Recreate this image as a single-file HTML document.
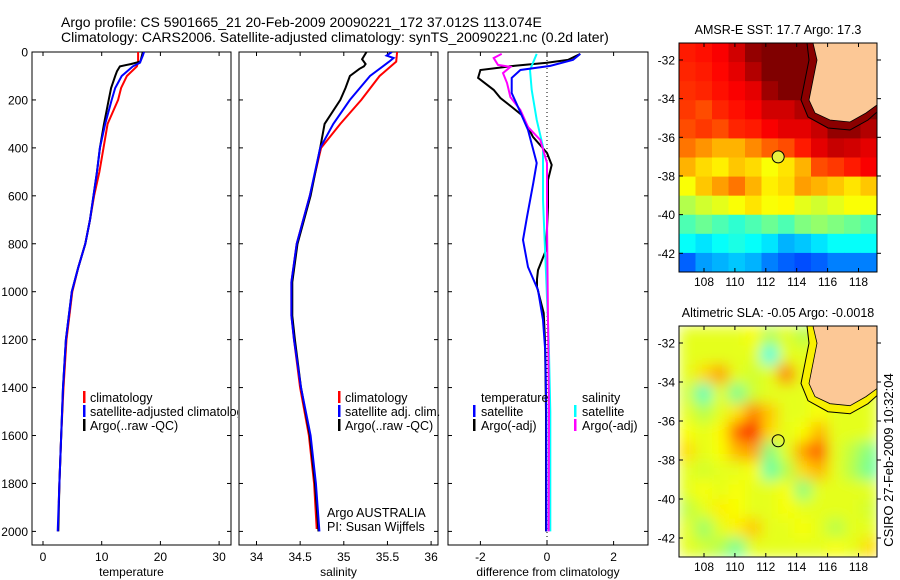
<!DOCTYPE html>
<html><head><meta charset="utf-8"><style>
body{margin:0;background:#fff;}
svg{display:block;font-family:"Liberation Sans",sans-serif;}
text{fill:#000;}
</style></head><body>
<svg id="fig" width="900" height="580" viewBox="0 0 900 580">
<defs>
<clipPath id="cp1"><rect x="32" y="52" width="199" height="493"/></clipPath>
<clipPath id="cp2"><rect x="239" y="52" width="199" height="493"/></clipPath>
<clipPath id="cp3"><rect x="448" y="52" width="200" height="493"/></clipPath>
<clipPath id="cpm1"><rect x="679" y="43" width="198" height="229"/></clipPath>
<clipPath id="cpm2"><rect x="679" y="326" width="198" height="231"/></clipPath>
<filter id="blur" x="0" y="0" width="1" height="1"><feGaussianBlur stdDeviation="7" edgeMode="duplicate"/></filter>
</defs>
<text x="61" y="27" font-size="14">Argo profile: CS 5901665_21 20-Feb-2009 20090221_172 37.012S 113.074E</text>
<text x="61" y="42" font-size="14">Climatology: CARS2006. Satellite-adjusted climatology: synTS_20090221.nc (0.2d later)</text>
<g id="g1"></g>
<g id="g2"></g>
<g id="g3"></g>
<g id="m1"></g>
<g id="m2"></g>
<text transform="translate(893,460) rotate(-90)" font-size="13" text-anchor="middle">CSIRO 27-Feb-2009 10:32:04</text>
</svg>
<script>
// ---- profile data (depth in m) ----
const tClimDepth=[0,40,60,100,150,200,300,400,500,600,700,800,900,1000,1200,1400,1600,1800,1880];
const tClimVal=[16.2,16.2,16.0,14.3,13.3,12.8,11.0,10.3,9.6,8.7,8.0,7.2,6.0,5.0,4.0,3.5,3.1,2.8,2.7];
const tSatDepth=[0,15,45,60,100,150,200,300,400,500,600,700,800,900,1000,1200,1400,1600,1800,2000];
const tSatVal=[17.2,17.0,16.5,15.3,13.4,12.3,11.7,10.6,9.7,9.2,8.6,8.0,7.2,6.0,4.9,3.9,3.4,3.1,2.8,2.5];
const tArgoDepth=[0,40,50,60,80,100,150,200,300,400,500,600,700,800,900,1000,1200,1400,1600,1800,2000];
const tArgoVal=[17.0,16.6,15.0,13.1,12.6,12.3,11.6,11.2,10.4,9.7,9.2,8.6,8.0,7.2,6.0,4.9,3.9,3.4,3.1,2.8,2.6];
const sClimDepth=[0,40,100,200,300,400,600,800,960,1100,1200,1400,1600,1800,1990];
const sClimVal=[35.61,35.6,35.41,35.2,34.96,34.74,34.61,34.46,34.40,34.40,34.43,34.5,34.6,34.66,34.69];
const sSatDepth=[0,15,25,40,100,200,300,400,600,800,960,1100,1200,1400,1600,1800,2000];
const sSatVal=[35.55,35.49,35.57,35.52,35.3,35.07,34.88,34.73,34.61,34.46,34.40,34.40,34.43,34.51,34.62,34.68,34.72];
const sArgoDepth=[0,30,50,60,70,100,150,200,300,400,600,800,960,1100,1200,1400,1600,1800,2000];
const sArgoVal=[35.26,35.21,35.25,35.23,35.18,35.07,35.02,34.96,34.78,34.73,34.62,34.47,34.41,34.41,34.44,34.51,34.61,34.67,34.71];
const dTSatDepth=[8,33,58,75,108,171,229,325,463,546,688,784,897,993,1118,1250,1500,2000];
const dTSatVal=[1.0,0.78,0.1,-0.8,-1.06,-1.06,-0.87,-0.57,-0.31,-0.41,-0.6,-0.72,-0.57,-0.27,-0.12,-0.05,-0.02,-0.02];
const dTArgoDepth=[8,33,45,57,75,108,158,192,229,263,354,421,471,534,646,826,910,948,980,1089,1200,1500,2000];
const dTArgoVal=[1.0,0.63,0.0,-0.96,-2.0,-2.07,-1.6,-1.4,-1.06,-0.76,-0.42,0.0,0.14,0.03,0.03,-0.03,-0.27,-0.3,-0.3,-0.1,-0.06,-0.03,-0.03];
const dSSatDepth=[8,75,158,283,396,617,922,1200,1500,2000];
const dSSatVal=[-0.31,-0.51,-0.46,-0.31,-0.12,-0.12,-0.03,0.05,0.1,0.1];
const dSArgoDepth=[8,25,54,62,88,129,188,242,313,367,463,700,1000,1500,2000];
const dSArgoVal=[-1.36,-1.6,-1.47,-1.1,-1.32,-1.2,-1.1,-0.8,-0.57,-0.2,0.0,0.0,0.02,0.06,0.05];
// ---- map grids (jet colormap fraction 0..1), 12 cols x 12 rows ----
const sstGrid=[
[.85,.86,.88,.92,.98,1,1,1,1,1,1,1],
[.84,.85,.87,.9,.95,1,1,1,1,1,1,1],
[.83,.84,.86,.88,.9,.97,1,1,1,1,1,1],
[.82,.8,.84,.86,.88,.92,.92,.95,1,1,1,1],
[.8,.82,.8,.84,.85,.88,.9,.9,.93,.98,.98,.95],
[.76,.73,.7,.7,.74,.78,.8,.85,.9,.93,.92,.9],
[.7,.66,.64,.68,.66,.62,.65,.7,.8,.82,.85,.88],
[.62,.68,.72,.76,.7,.64,.66,.72,.7,.68,.65,.68],
[.55,.58,.6,.62,.65,.62,.63,.6,.58,.6,.62,.62],
[.45,.48,.45,.42,.45,.48,.45,.5,.52,.5,.48,.45],
[.38,.35,.38,.4,.38,.35,.3,.32,.35,.38,.38,.38],
[.22,.28,.3,.32,.3,.25,.22,.2,.22,.25,.25,.25]];
const slaGrid=[
[.6,.6,.6,.6,.62,.55,.6,.55,.6,.6,.6,.6],
[.6,.6,.6,.6,.6,.4,.6,.6,.6,.6,.6,.6],
[.6,.66,.72,.6,.58,.6,.76,.6,.65,.6,.6,.6],
[.58,.44,.6,.48,.58,.6,.6,.6,.62,.6,.6,.6],
[.6,.55,.6,.65,.75,.68,.6,.6,.62,.6,.6,.6],
[.62,.6,.63,.78,.88,.66,.6,.62,.7,.6,.6,.6],
[.66,.6,.62,.7,.72,.5,.6,.72,.8,.6,.56,.5],
[.6,.58,.6,.6,.62,.46,.55,.66,.7,.6,.55,.48],
[.6,.62,.6,.62,.6,.6,.62,.5,.6,.6,.6,.6],
[.56,.6,.64,.62,.6,.6,.62,.6,.6,.6,.6,.58],
[.6,.52,.6,.64,.68,.6,.6,.62,.6,.55,.6,.6],
[.6,.58,.55,.48,.6,.6,.6,.6,.6,.62,.6,.66]];

const NS='http://www.w3.org/2000/svg';
function el(parent,tag,attrs){const e=document.createElementNS(NS,tag);for(const k in attrs)e.setAttribute(k,attrs[k]);parent.appendChild(e);return e;}
const yD=d=>52+d*0.2397;
function panel(g,x0,x1,clip,xs,xTicks,xLab,xTitle,yLabels){
  const r=el(g,'rect',{x:x0,y:52,width:x1-x0,height:493,fill:'none',stroke:'#000','stroke-width':1});
  
  for(let d=0;d<=2000;d+=200){const y=yD(d);
    el(g,'line',{x1:x0,x2:x0+4,y1:y,y2:y,stroke:'#000'});el(g,'line',{x1:x1-4,x2:x1,y1:y,y2:y,stroke:'#000'});
    if(yLabels){const t=el(g,'text',{x:x0-4,y:y+4.5,'text-anchor':'end','font-size':12});t.textContent=d;
      }}
  xTicks.forEach((v,i)=>{const x=xs(v);el(g,'line',{x1:x,x2:x,y1:545,y2:541,stroke:'#000'});el(g,'line',{x1:x,x2:x,y1:52,y2:56,stroke:'#000'});
    const t=el(g,'text',{x:x,y:561,'text-anchor':'middle','font-size':12});t.textContent=xLab[i];
    });
  const t=el(g,'text',{x:(x0+x1)/2,y:576,'text-anchor':'middle','font-size':12});t.textContent=xTitle;
  
  return el(g,'g',{'clip-path':'url(#'+clip+')'});
}
function line(g,xs,depths,vals,color,name,w){
  const pts=depths.map((d,i)=>xs(vals[i]).toFixed(1)+','+yD(d).toFixed(1)).join(' ');
  const p=el(g,'polyline',{points:pts,fill:'none',stroke:color,'stroke-width':w||2});
  
}
function txt(g,x,y,s,name){const t=el(g,'text',{x:x,y:y,'font-size':12.5});t.textContent=s;return t;}
function mark(g,x,y,c){el(g,'rect',{x:x,y:y-11,width:2.5,height:12,fill:c});}

// Panel 1
const xT=v=>43+5.87*v;
const g1=document.getElementById('g1');
const c1=panel(g1,32,231,'cp1',xT,[0,10,20,30],['0','10','20','30'],'temperature',true);
line(c1,xT,tClimDepth,tClimVal,'#f00','temp-climatology-line');
line(c1,xT,tArgoDepth,tArgoVal,'#000','temp-argo-line');
line(c1,xT,tSatDepth,tSatVal,'#00f','temp-satellite-line');
mark(g1,83,402,'#f00');txt(g1,90,402,'climatology','legend-climatology');
mark(g1,83,416,'#00f');txt(g1,90,416,'satellite-adjusted climatology','legend-satellite-adjusted');
mark(g1,83,430,'#000');txt(g1,90,430,'Argo(..raw -QC)','legend-argo');
// Panel 2
const xS=v=>256.5+87.3*(v-34);
const g2=document.getElementById('g2');
el(g2,'rect',{x:238,y:380,width:200,height:60,fill:'#fff'});
const c2=panel(g2,239,438,'cp2',xS,[34,34.5,35,35.5,36],['34','34.5','35','35.5','36'],'salinity',false);
line(c2,xS,sClimDepth,sClimVal,'#f00','sal-climatology-line');
line(c2,xS,sArgoDepth,sArgoVal,'#000','sal-argo-line');
line(c2,xS,sSatDepth,sSatVal,'#00f','sal-satellite-line');
mark(g2,338,402,'#f00');txt(g2,345,402,'climatology','legend-sal-climatology');
mark(g2,338,416,'#00f');txt(g2,345,416,'satellite adj. clim.','legend-sal-satellite');
mark(g2,338,430,'#000');txt(g2,345,430,'Argo(..raw -QC)','legend-sal-argo');
txt(g2,327,517,'Argo AUSTRALIA','argo-australia-label');
txt(g2,327,531,'PI: Susan Wijffels','pi-label');
// Panel 3
const xDf=v=>547+33.3*v;
const g3=document.getElementById('g3');
const c3=panel(g3,448,648,'cp3',xDf,[-2,0,2],['-2','0','2'],'difference from climatology',false);
el(c3,'line',{x1:xDf(0),x2:xDf(0),y1:52,y2:545,stroke:'#000','stroke-dasharray':'1,3'});
line(c3,xDf,dTArgoDepth,dTArgoVal,'#000','diff-temp-argo-line');
line(c3,xDf,dSSatDepth,dSSatVal,'#0ff','diff-sal-satellite-line');
line(c3,xDf,dSArgoDepth,dSArgoVal,'#f0f','diff-sal-argo-line');
line(c3,xDf,dTSatDepth,dTSatVal,'#00f','diff-temp-satellite-line');
txt(g3,481,402,'temperature','legend-temperature-heading');
mark(g3,473,416,'#00f');txt(g3,481,416,'satellite','legend-temp-satellite');
mark(g3,473,430,'#000');txt(g3,481,430,'Argo(-adj)','legend-temp-argo');
txt(g3,582,402,'salinity','legend-salinity-heading');
mark(g3,574,416,'#0ff');txt(g3,582,416,'satellite','legend-sal-sat');
mark(g3,574,430,'#f0f');txt(g3,582,430,'Argo(-adj)','legend-sal-argo-adj');

// Maps
function jet(v){const c=x=>Math.round(255*Math.max(0,Math.min(1,x)));
  return 'rgb('+c(1.5-Math.abs(4*v-3))+','+c(1.5-Math.abs(4*v-2))+','+c(1.5-Math.abs(4*v-1))+')';}
function map(gid,top,h,clip,grid,smooth,title,shelf){
  const g=document.getElementById(gid);const L=679,W=198;
  const lon=v=>704+(v-108)*15.45, lat=v=>top+17+(v-32)*19.33*(h/229);
  const t=el(g,'text',{x:778,y:top-9,'text-anchor':'middle','font-size':12.5});t.textContent=title;
  
  const cg=el(g,'g',{'clip-path':'url(#'+clip+')'});
  const inner=el(cg,'g',smooth?{filter:'url(#blur)'}:{});
  const cw=W/12,ch=h/12;
  grid.forEach((row,r)=>row.forEach((v,c)=>{
    const cell=el(inner,'rect',{x:L+c*cw,y:top+r*ch,width:cw+0.6,height:ch+0.6,fill:jet(v)});
    
    
  }));
  const sy=h/229;
  const P=(x,y)=>x+','+(top+(y-43)*sy);
  const coast=[[813,43],[817,60],[812,85],[809,100],[815,113],[830,120],[850,122],[866,113],[877,105]];
  const outer=[[807,43],[809,60],[804,85],[801,100],[808,117],[828,128],[850,130],[868,120],[877,112]];
  el(cg,'polygon',{points:[...outer.map(p=>P(p[0],p[1])),P(877,43)].join(' '),fill:shelf,stroke:'#000','stroke-width':1});
  el(cg,'polygon',{points:[...coast.map(p=>P(p[0],p[1])),P(877,43)].join(' '),fill:'#fcc896',stroke:'#000','stroke-width':0.8});
  const fr=el(g,'rect',{x:L,y:top,width:W,height:h,fill:'none',stroke:'#000'});
  
  [108,110,112,114,116,118].forEach(v=>{const x=lon(v);el(g,'line',{x1:x,x2:x,y1:top+h,y2:top+h-4,stroke:'#000'});el(g,'line',{x1:x,x2:x,y1:top,y2:top+4,stroke:'#000'});
    const tt=el(g,'text',{x:x,y:top+h+14,'text-anchor':'middle','font-size':12});tt.textContent=v;
    });
  [32,34,36,38,40,42].forEach(v=>{const y=lat(v);el(g,'line',{x1:L,x2:L+4,y1:y,y2:y,stroke:'#000'});el(g,'line',{x1:L+W,x2:L+W+4,y1:y,y2:y,stroke:'#000'});
    const tt=el(g,'text',{x:L-4,y:y+4.5,'text-anchor':'end','font-size':12});tt.textContent='-'+v;
    });
  const c=el(g,'circle',{cx:lon(112.8),cy:lat(37.012),r:6,fill:smooth?'none':'#e8f040',stroke:'#000'});
  
}
map('m1',43,229,'cpm1',sstGrid,false,'AMSR-E SST: 17.7 Argo: 17.3','#8b0000');
map('m2',326,231,'cpm2',slaGrid,true,'Altimetric SLA: -0.05 Argo: -0.0018','#f8f000');
</script>
</body></html>
